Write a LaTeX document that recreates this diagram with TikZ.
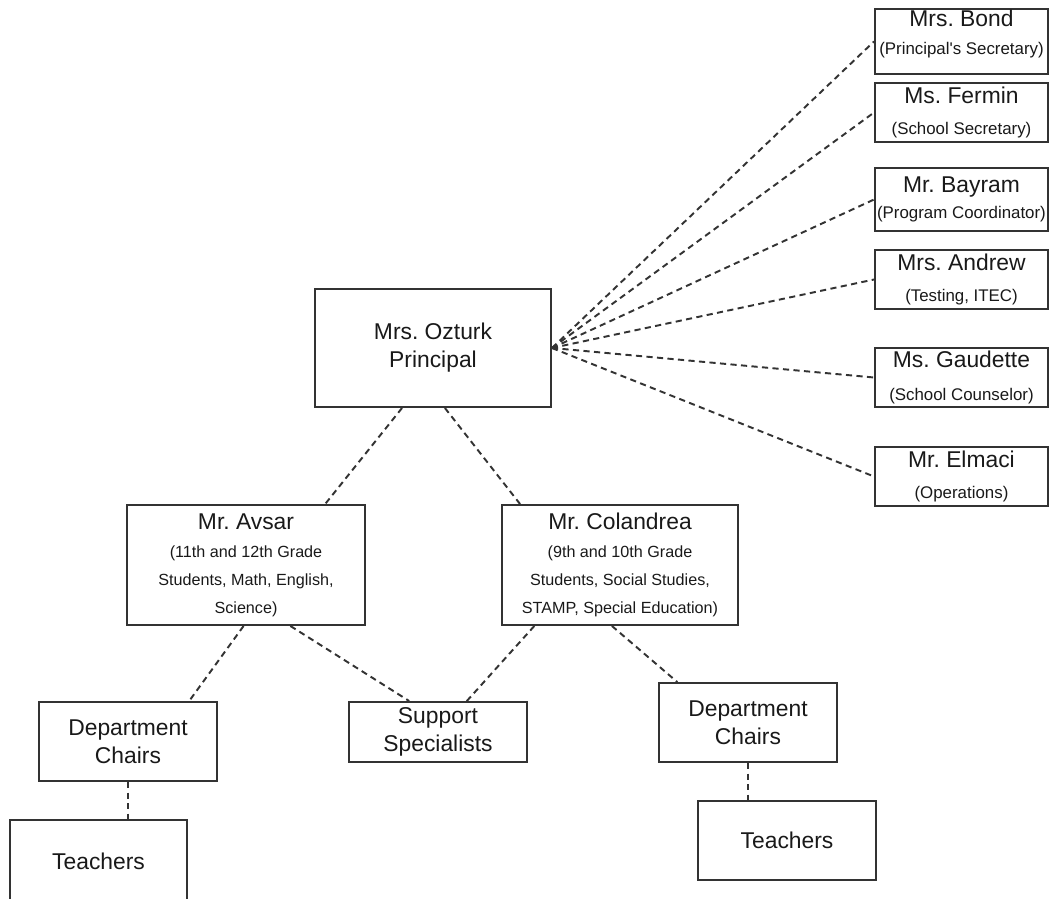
\documentclass[tikz,border=0pt]{standalone}
\usepackage{fontspec}
\setmainfont{Liberation Sans}
\usepackage{tikz}
\usetikzlibrary{positioning,calc}
\usepackage{xcolor}
\definecolor{linecolor}{RGB}{51,51,51}
\definecolor{namecolor}{RGB}{25,25,25}
\newcommand{\roletext}[1]{{\fontsize{9.6}{16}\selectfont #1}}
\newcommand{\dutytext}[1]{{\fontsize{9.2}{16}\selectfont #1}}
\frenchspacing

\begin{document}
\begin{tikzpicture}[
    box/.style={
        rectangle, draw=linecolor, line width=1.1pt,
        inner xsep=0.5pt, inner ysep=1pt,
        align=center, text=namecolor,
        font=\fontsize{13}{16}\selectfont
    },
    staff/.style={box, minimum width=3.46cm, minimum height=1.18cm},
    unit/.style={box, minimum width=3.56cm, minimum height=1.58cm},
    link/.style={draw=linecolor, line width=1.1pt, dash pattern=on 3.5pt off 2.5pt}
]
\useasboundingbox (0,0) rectangle (21,-17.98);

% Principal
\node[box, minimum width=4.72cm, minimum height=2.36cm] (ozturk) at (8.66, -6.96) {Mrs. Ozturk\\Principal};

% Office staff on the right
\node[staff, anchor=north, minimum height=1.30cm, inner ysep=0pt, text depth=11pt] (bond) at (19.23, -0.16) {Mrs. Bond\\\roletext{(Principal\textquotesingle s Secretary)}};
\node[staff] (fermin) at (19.23, -2.25) {Ms. Fermin\\[2pt]\roletext{(School Secretary)}};
\node[staff, minimum height=1.26cm] (bayram) at (19.23, -3.99) {Mr. Bayram\\[-1.4pt]\roletext{(Program Coordinator)}};
\node[staff] (andrew) at (19.23, -5.59) {Mrs. Andrew\\[2pt]\roletext{(Testing, ITEC)}};
\node[staff] (gaudette) at (19.23, -7.55) {Ms. Gaudette\\[2.5pt]\roletext{(School Counselor)}};
\node[staff] (elmaci) at (19.23, -9.53) {Mr. Elmaci\\[2pt]\roletext{(Operations)}};

\foreach \who in {bond,fermin,bayram,andrew,gaudette,elmaci}
    \draw[link] (ozturk.east) -- (\who.west);

% Assistant principals
\node[box, minimum width=4.76cm, minimum height=2.40cm] (avsar) at (4.92, -11.30) {Mr. Avsar\\\dutytext{(11th and 12th Grade}\\\dutytext{Students, Math, English,}\\\dutytext{Science)}};
\node[box, minimum width=4.72cm, minimum height=2.40cm] (colandrea) at (12.40, -11.30) {Mr. Colandrea\\\dutytext{(9th and 10th Grade}\\\dutytext{Students, Social Studies,}\\\dutytext{STAMP, Special Education)}};

\draw[link] ($(ozturk.south west)!0.37!(ozturk.south east)$) -- ($(avsar.north west)!0.83!(avsar.north east)$);
\draw[link] ($(ozturk.south west)!0.55!(ozturk.south east)$) -- ($(colandrea.north west)!0.08!(colandrea.north east)$);

% Lower level
\node[unit] (chairsL) at (2.56, -14.83) {Department\\Chairs};
\node[unit, minimum height=1.20cm] (support) at (8.76, -14.64) {Support\\Specialists};
\node[unit] (chairsR) at (14.96, -14.45) {Department\\Chairs};
\node[unit, minimum width=3.54cm, minimum height=1.64cm] (teachersL) at (1.97, -17.22) {Teachers};
\node[unit] (teachersR) at (15.74, -16.81) {Teachers};

\draw[link] ($(avsar.south west)!0.49!(avsar.south east)$) -- ($(chairsL.north west)!0.84!(chairsL.north east)$);
\draw[link] ($(avsar.south west)!0.685!(avsar.south east)$) -- ($(support.north west)!0.34!(support.north east)$);
\draw[link] ($(colandrea.south west)!0.14!(colandrea.south east)$) -- ($(support.north west)!0.66!(support.north east)$);
\draw[link] ($(colandrea.south west)!0.466!(colandrea.south east)$) -- ($(chairsR.north west)!0.107!(chairsR.north east)$);
\draw[link] (chairsL.south) -- (chairsL.south |- teachersL.north);
\draw[link] (chairsR.south) -- (chairsR.south |- teachersR.north);

\end{tikzpicture}
\end{document}
